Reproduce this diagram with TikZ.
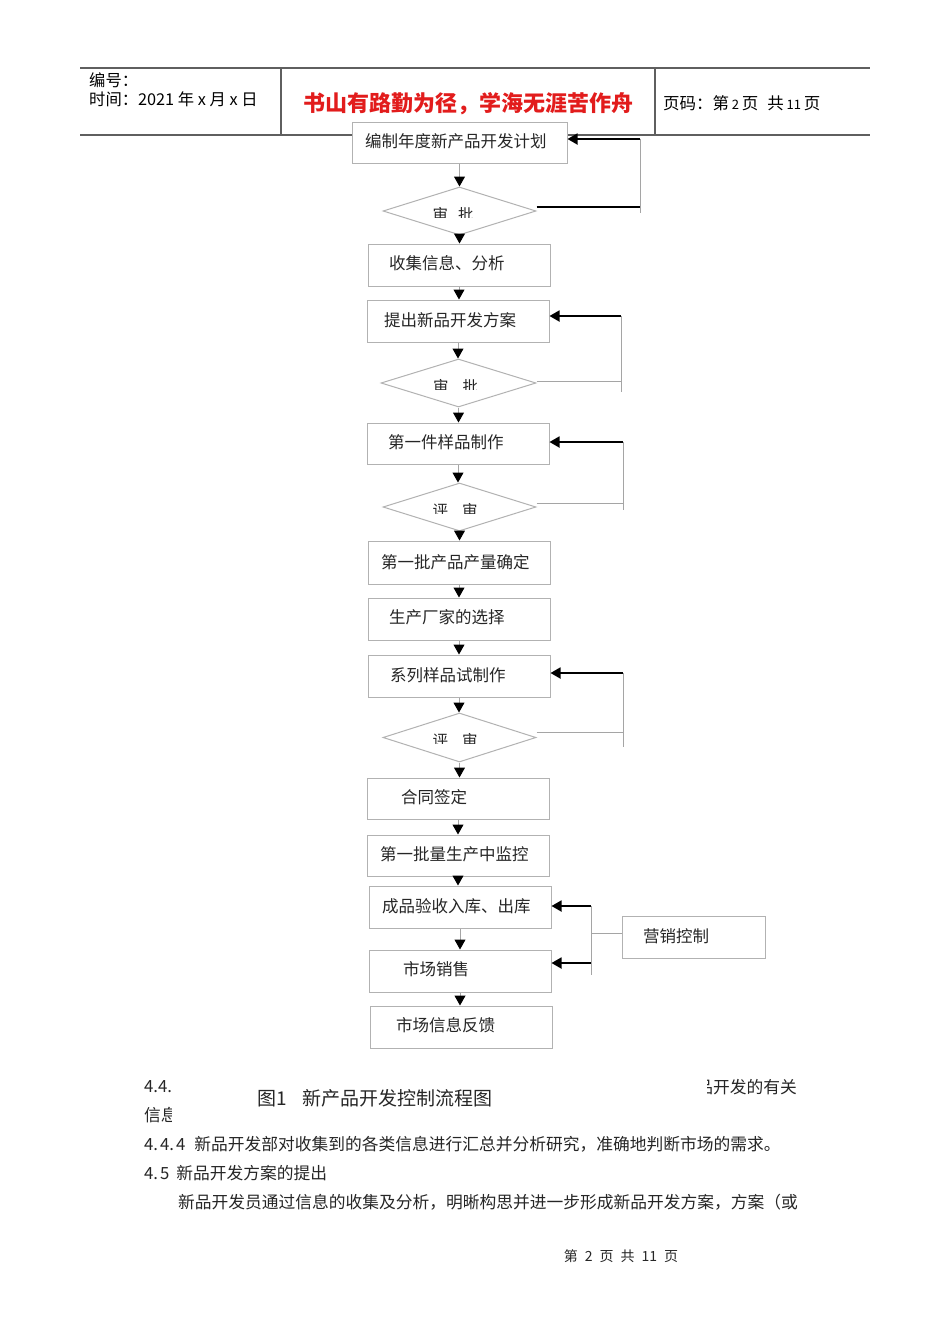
\documentclass[tikz,border=0pt]{standalone}
\usepackage{fontspec}
\setmainfont{Noto Sans CJK SC}
\usetikzlibrary{arrows.meta,shapes.geometric}
\definecolor{boxgray}{RGB}{178,178,178}
\definecolor{linegray}{RGB}{165,165,165}
\definecolor{hdrgray}{RGB}{95,95,95}
\definecolor{mottored}{RGB}{226,28,28}
\begin{document}
\begin{tikzpicture}[x=1pt,y=-1pt,
 box/.style={draw=boxgray, line width=1pt, fill=white, inner sep=0pt},
 dia/.style={diamond, draw=boxgray, line width=1pt, fill=white, inner sep=0pt, minimum width=153pt, minimum height=48pt},
 lbl/.style={anchor=west, inner sep=0pt, text=black!85, font=\fontsize{16.5}{18}\selectfont},
 dlbl/.style={inner sep=0pt, text=black!85, font=\fontsize{15.5}{16}\selectfont},
 down/.style={draw=linegray, line width=1pt, -{Triangle[color=black,length=10pt,width=11pt]}},
 back/.style={draw=black, line width=1.8pt, -{Triangle[color=black,length=10pt,width=11pt]}},
 thinl/.style={draw=linegray, line width=1pt},
 hdr/.style={draw=hdrgray, line width=1.4pt},
 body/.style={anchor=west, inner sep=0pt, text=black!85, font=\fontsize{16.75}{18}\selectfont}]
\fill[white] (0,0) rectangle (950,1344);
\useasboundingbox (0,0) rectangle (950,1344);

% header
\draw[hdr] (80,68) -- (870,68);
\draw[hdr] (80,135) -- (870,135);
\draw[hdr] (281,68) -- (281,135);
\draw[hdr] (655,68) -- (655,135);
\node[anchor=west, inner sep=0pt, font=\fontsize{16.3}{18}\selectfont] (h1) at (89,80) {编号：};
\node[anchor=west, inner sep=0pt, font=\fontsize{16.3}{18}\selectfont] (h2) at (89,99) {时间：2021 年 x 月 x 日};
\node[inner sep=0pt, text=mottored, font=\fontsize{22}{24}\selectfont\bfseries] (motto) at (468,104) {书山有路勤为径，学海无涯苦作舟};
\node[anchor=west, inner sep=0pt, font=\fontsize{16.5}{18}\selectfont] (h3) at (663,103) {页码：第\,{\fontsize{13}{14}\selectfont 2}\,页\hspace{9pt}共\,{\fontsize{13}{14}\selectfont 11}\,页};

% boxes
\node[box, minimum width=215pt, minimum height=41pt] (n1) at (459.5,142.5) {};
\node[lbl] (n1t) at (365,141) {编制年度新产品开发计划};
\node[dia] (d1) at (459.5,211) {};
\node[box, minimum width=182pt, minimum height=42pt] (n3) at (459,265) {};
\node[lbl] (n3t) at (389,263) {收集信息、分析};
\node[box, minimum width=182pt, minimum height=42pt] (n4) at (458,321) {};
\node[lbl] (n4t) at (384,320) {提出新品开发方案};
\node[dia, minimum width=155pt] (d2) at (458.5,383) {};
\node[box, minimum width=182pt, minimum height=41pt] (n6) at (458,443.5) {};
\node[lbl] (n6t) at (388,442) {第一件样品制作};
\node[dia] (d3) at (459.5,507) {};
\node[box, minimum width=182pt, minimum height=43pt] (n8) at (459,562.5) {};
\node[lbl] (n8t) at (381,562) {第一批产品产量确定};
\node[box, minimum width=182pt, minimum height=42pt] (n9) at (459,619) {};
\node[lbl] (n9t) at (389,617) {生产厂家的选择};
\node[box, minimum width=182pt, minimum height=42pt] (n10) at (459,676) {};
\node[lbl] (n10t) at (390,675) {系列样品试制作};
\node[dia, minimum height=49pt] (d4) at (459.5,737.5) {};
\node[box, minimum width=182pt, minimum height=41pt] (n12) at (458,798.5) {};
\node[lbl] (n12t) at (401,797) {合同签定};
\node[box, minimum width=182pt, minimum height=41pt] (n13) at (458,855.5) {};
\node[lbl] (n13t) at (380,854) {第一批量生产中监控};
\node[box, minimum width=182pt, minimum height=42pt] (n14) at (460,907) {};
\node[lbl] (n14t) at (382,906) {成品验收入库、出库};
\node[box, minimum width=182pt, minimum height=42pt] (n15) at (460,971) {};
\node[lbl] (n15t) at (403,969) {市场销售};
\node[box, minimum width=182pt, minimum height=42pt] (n16) at (461,1027) {};
\node[lbl] (n16t) at (396,1025) {市场信息反馈};
\node[box, minimum width=143pt, minimum height=42pt] (mk) at (693.5,937) {};
\node[lbl] (mkt) at (643,936) {营销控制};

% clipped diamond labels
\begin{scope}
\clip (420,205) rectangle (495,217);
\node[dlbl] (d1t) at (453,214.5) {审\hspace{10pt}批};
\end{scope}
\begin{scope}
\clip (420,377) rectangle (495,389);
\node[dlbl] (d2t) at (455.5,386.5) {审\hspace{14pt}批};
\end{scope}
\begin{scope}
\clip (420,501) rectangle (495,513);
\node[dlbl] (d3t) at (455,510.5) {评\hspace{14pt}审};
\end{scope}
\begin{scope}
\clip (420,731.5) rectangle (495,743.5);
\node[dlbl] (d4t) at (455,741) {评\hspace{14pt}审};
\end{scope}

% vertical connectors
\draw[down] (n1.south) -- (n1.south |- d1.north);
\draw[down] (d1.south) -- (d1.south |- n3.north);
\draw[down] (n3.south) -- (n3.south |- n4.north);
\draw[down] (n4.south) -- (n4.south |- d2.north);
\draw[down] (d2.south) -- (d2.south |- n6.north);
\draw[down] (n6.south) -- (n6.south |- d3.north);
\draw[down] (d3.south) -- (d3.south |- n8.north);
\draw[down] (n8.south) -- (n8.south |- n9.north);
\draw[down] (n9.south) -- (n9.south |- n10.north);
\draw[down] (n10.south) -- (n10.south |- d4.north);
\draw[down] (d4.south) -- (d4.south |- n12.north);
\draw[down] (n12.south) -- (n12.south |- n13.north);
\draw[down] (n13.south) -- (n13.south |- n14.north);
\draw[down] (n14.south) -- (n14.south |- n15.north);
\draw[down] (n15.south) -- (n15.south |- n16.north);

% feedback loops
\coordinate (L1t) at (640,139);
\coordinate (L1b) at (640,213);
\coordinate (L1d) at (640,207);
\draw[thinl] (L1t) -- (L1b);
\draw[black, line width=1.5pt] (L1d -| d1.east) -- (L1d);
\draw[back] (L1t) -- (L1t -| n1.east);

\coordinate (L2t) at (621,316);
\coordinate (L2b) at (621,392);
\coordinate (L2d) at (621,381);
\draw[thinl] (L2t) -- (L2b);
\draw[thinl] (L2d -| d2.east) -- (L2d);
\draw[back] (L2t) -- (L2t -| n4.east);

\coordinate (L3t) at (623,442);
\coordinate (L3b) at (623,510);
\coordinate (L3d) at (623,503);
\draw[thinl] (L3t) -- (L3b);
\draw[thinl] (L3d -| d3.east) -- (L3d);
\draw[back] (L3t) -- (L3t -| n6.east);

\coordinate (L4t) at (623,673);
\coordinate (L4b) at (623,747);
\coordinate (L4d) at (623,732);
\draw[thinl] (L4t) -- (L4b);
\draw[thinl] (L4d -| d4.east) -- (L4d);
\draw[back] (L4t) -- (L4t -| n10.east);

\coordinate (M1) at (591,906);
\coordinate (M2) at (591,963);
\coordinate (Mb) at (591,975);
\coordinate (Mm) at (591,933);
\draw[thinl] (M1) -- (Mb);
\draw[thinl] (Mm) -- (Mm -| mk.west);
\draw[back] (M1) -- (M1 -| n14.east);
\draw[back] (M2) -- (M2 -| n15.east);

% body text
\node[body] (p1) at (144,1087) {4.4.};
\node[body] (p2) at (144,1115) {信息};
\node[body, anchor=east] (p3) at (797,1087) {品开发的有关};
\node[fill=white, inner sep=0pt, minimum width=535pt, minimum height=52pt] (capbox) at (439.5,1099) {};
\node[anchor=west, inner sep=0pt, text=black!85, font=\fontsize{19}{21}\selectfont] (cap) at (257,1098) {图1\hspace{16pt}新产品开发控制流程图};
\node[body] (p4) at (144,1144) {4.\hspace{2pt}4.\hspace{2pt}4\hspace{9pt}新品开发部对收集到的各类信息进行汇总并分析研究，准确地判断市场的需求。};
\node[body] (p5) at (144,1173) {4.\hspace{2pt}5\hspace{7pt}新品开发方案的提出};
\node[body] (p6) at (178,1202) {新品开发员通过信息的收集及分析，明晰构思并进一步形成新品开发方案，方案（或};
\node[inner sep=0pt, text=black!85, font=\fontsize{14}{16}\selectfont] (foot) at (621,1256) {第\hspace{7pt}2\hspace{7pt}页\hspace{7pt}共\hspace{7pt}11\hspace{7pt}页};
\end{tikzpicture}
\end{document}
